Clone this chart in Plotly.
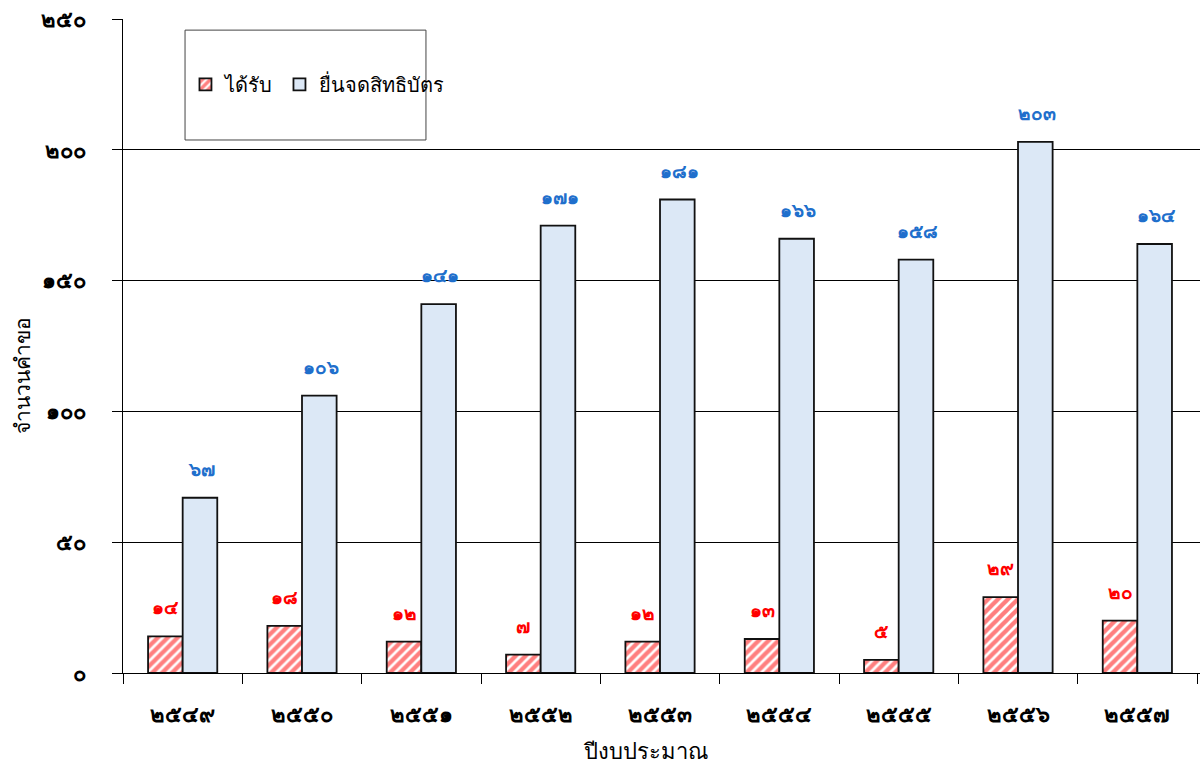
import plotly.graph_objects as go

# Fiscal years (Buddhist era) and patent counts
years = ["๒๕๔๙", "๒๕๕๐", "๒๕๕๑", "๒๕๕๒", "๒๕๕๓", "๒๕๕๔", "๒๕๕๕", "๒๕๕๖", "๒๕๕๗"]
granted = [14, 18, 12, 7, 12, 13, 5, 29, 20]
filed = [67, 106, 141, 171, 181, 166, 158, 203, 164]
y_ticks = [0, 50, 100, 150, 200, 250]

THAI_DIGITS = str.maketrans("0123456789", "๐๑๒๓๔๕๖๗๘๙")


def thai_num(v):
    return str(v).translate(THAI_DIGITS)


FONT = "Tahoma, 'Noto Sans', sans-serif"
RED = "#ff0000"
BLUE = "#1f6fcc"
OUTLINE = dict(color="#111111", width=1.8)

fig = go.Figure()
fig.add_trace(go.Bar(
    name="ได้รับ", x=years, y=granted,
    marker=dict(color="white", line=OUTLINE,
                pattern=dict(shape="/", fgcolor=RED, bgcolor="white",
                             size=7, solidity=0.62, fillmode="overlay")),
))
fig.add_trace(go.Bar(
    name="ยื่นจดสิทธิบัตร", x=years, y=filed,
    marker=dict(color="#dce8f6", line=OUTLINE),
))

# value labels above each bar
annotations = []
for i, (g, f) in enumerate(zip(granted, filed)):
    annotations.append(dict(x=i - 0.145, y=g, xref="x", yref="y", text=thai_num(g),
                            showarrow=False, yshift=29,
                            font=dict(family=FONT, size=19, color=RED, weight="bold")))
    annotations.append(dict(x=i + 0.16, y=f, xref="x", yref="y", text=thai_num(f),
                            showarrow=False, yshift=29,
                            font=dict(family=FONT, size=19, color=BLUE, weight="bold")))

# axis titles
annotations.append(dict(text="ปีงบประมาณ", xref="paper", yref="paper", x=0.485, y=-0.118,
                        xanchor="center", yanchor="middle", showarrow=False,
                        font=dict(family=FONT, size=22, color="black")))
annotations.append(dict(text="จำนวนคำขอ", xref="paper", yref="paper", x=-0.094, y=0.456,
                        xanchor="center", yanchor="middle", showarrow=False, textangle=-90,
                        font=dict(family=FONT, size=21, color="black")))

fig.update_layout(
    width=1200, height=767,
    margin=dict(l=123, r=0, t=19, b=94),
    plot_bgcolor="white", paper_bgcolor="white",
    barmode="group", bargap=0.42, bargroupgap=0,
    font=dict(family=FONT, color="black"),
    annotations=annotations,
    shapes=[dict(type="rect", xref="paper", yref="paper",
                 x0=0.0576, x1=0.2813, y0=0.815, y1=0.983,
                 line=dict(color="#444444", width=1), fillcolor="white", layer="below")],
    legend=dict(orientation="h", x=0.058, y=0.9, xanchor="left", yanchor="middle",
                borderwidth=0, bgcolor="rgba(0,0,0,0)",
                font=dict(size=20, family=FONT),
                itemwidth=30, tracegroupgap=0),
    showlegend=True,
)
fig.update_xaxes(
    type="category", range=[-0.5, 8.525],
    showline=True, linecolor="black", linewidth=1,
    ticks="outside", ticklen=10, tickcolor="black", tickson="boundaries",
    ticklabelstandoff=22,
    tickfont=dict(size=22, family=FONT, weight="bold"),
    showgrid=False,
)
fig.update_yaxes(
    range=[0, 250], tickvals=y_ticks, ticktext=[thai_num(v) for v in y_ticks],
    showline=True, linecolor="black", linewidth=1,
    ticks="outside", ticklen=10, tickcolor="black",
    ticklabelstandoff=22,
    tickfont=dict(size=22, family=FONT, weight="bold"),
    showgrid=True, gridcolor="black", gridwidth=1,
    zeroline=False,
)

fig.write_html("out.html")
